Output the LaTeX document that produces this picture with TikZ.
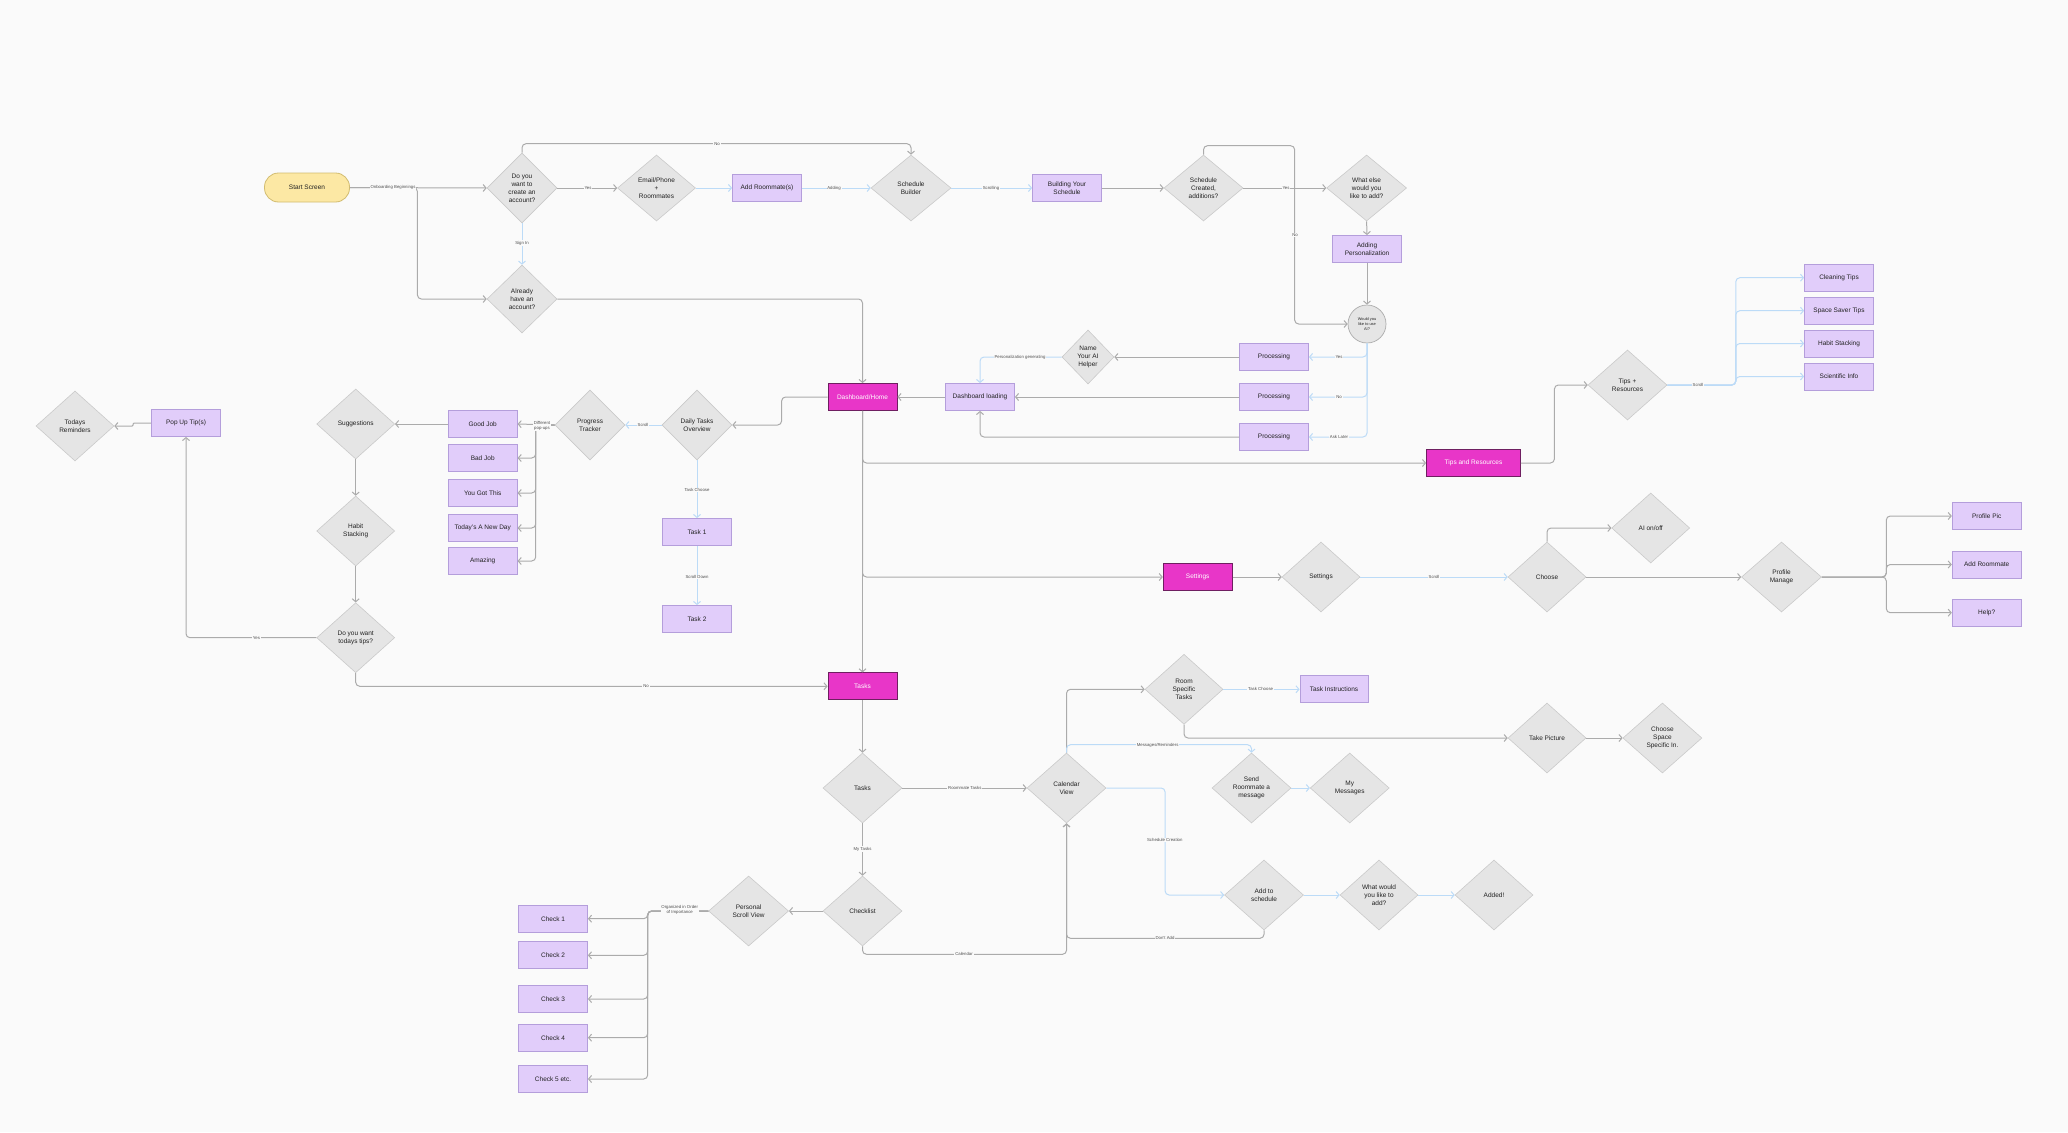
\documentclass[tikz,border=0pt]{standalone}
\usepackage{fontspec}
\setmainfont{Liberation Sans}
\usetikzlibrary{shapes.geometric,arrows.meta,calc}
\definecolor{bgc}{HTML}{FAFAFA}
\definecolor{dfill}{HTML}{E5E5E5}
\definecolor{dline}{HTML}{CACACA}
\definecolor{pfill}{HTML}{E1CDFA}
\definecolor{pline}{HTML}{B49EDB}
\definecolor{mfill}{HTML}{E836C8}
\definecolor{mline}{HTML}{6E1F60}
\definecolor{sfill}{HTML}{FCE8A4}
\definecolor{sline}{HTML}{D2BC70}
\definecolor{gcon}{HTML}{ABABAB}
\definecolor{bcon}{HTML}{BCDBF7}
\definecolor{txt}{HTML}{222222}
\newcommand\nodefont{\fontsize{6.5}{8}\selectfont}
\newcommand\edgefont{\fontsize{4.3}{5}\selectfont}
\newcommand\aifont{\fontsize{3.9}{4.6}\selectfont}
\begin{document}
\begin{tikzpicture}[x=1pt,y=-1pt,
  dia/.style={diamond, draw=dline, fill=dfill, line width=0.6pt, minimum width=78pt, minimum height=70pt, inner sep=0pt, align=center, font=\nodefont, text=txt},
  box/.style={rectangle, draw=pline, fill=pfill, line width=0.8pt, minimum width=69pt, minimum height=27pt, inner sep=1pt, align=center, font=\nodefont, text=txt},
  mag/.style={rectangle, draw=mline, fill=mfill, line width=0.8pt, minimum width=69pt, minimum height=27pt, inner sep=1pt, align=center, font=\nodefont, text=white},
  startn/.style={rectangle, rounded corners=14pt, draw=sline, fill=sfill, line width=0.8pt, minimum width=85pt, minimum height=29pt, font=\nodefont, text=txt},
  aic/.style={circle, draw=gcon, fill=dfill, line width=0.7pt, minimum size=38pt, inner sep=0pt, align=center, font=\aifont, text=txt},
  lbl/.style={fill=bgc, inner sep=0.8pt, font=\edgefont, text=txt!80, align=center},
  gl/.style={draw=gcon, line width=1pt, rounded corners=4pt, -{Straight Barb[length=3pt,width=7pt]}},
  bl/.style={draw=bcon, line width=1pt, rounded corners=4pt, -{Straight Barb[length=3pt,width=7pt]}}
]
\useasboundingbox (0,0) rectangle (2068,1132);
\fill[bgc] (0,0) rectangle (2068,1132);

% ---------- nodes: top row ----------
\node[startn] (start) at (307,187.5) {Start Screen};
\node[dia, minimum width=70pt] (q1) at (522,188) {Do you\\want to\\create an\\account?};
\node[dia, minimum height=66pt] (email) at (656.5,188) {Email/Phone\\+\\Roommates};
\node[box] (addrm) at (767,188) {Add Roommate(s)};
\node[dia, minimum width=80pt, minimum height=66pt] (sbuild) at (911,188) {Schedule\\Builder};
\node[box] (building) at (1067,188) {Building Your\\Schedule};
\node[dia, minimum width=79pt, minimum height=66pt] (screated) at (1203.5,188) {Schedule\\Created,\\additions?};
\node[dia, minimum width=80pt, minimum height=66pt] (whatelse) at (1366.6,188) {What else\\would you\\like to add?};
\node[box] (addpers) at (1367,249) {Adding\\Personalization};
\node[aic] (ai) at (1367,324) {Would you\\like to use\\AI?};
\node[dia, minimum width=70pt, minimum height=68pt] (already) at (522,299) {Already\\have an\\account?};

% ---------- processing / dashboard ----------
\node[box] (proc1) at (1274,357) {Processing};
\node[box] (proc2) at (1274,397) {Processing};
\node[box] (proc3) at (1274,437) {Processing};
\node[dia, minimum width=52pt, minimum height=54pt] (nameai) at (1088,357) {Name\\Your AI\\Helper};
\node[box] (dload) at (980,397) {Dashboard loading};
\node[mag] (dhome) at (862.5,397) {Dashboard/Home};
\node[mag, minimum width=94pt] (tipsres) at (1473.5,463) {Tips and Resources};
\node[dia, minimum width=79pt] (tipsdia) at (1627.5,385) {Tips +\\Resources};
\node[box] (clean) at (1839,277.7) {Cleaning Tips};
\node[box] (space) at (1839,310.7) {Space Saver Tips};
\node[box] (habitb) at (1839,343.5) {Habit Stacking};
\node[box] (sci) at (1839,376.5) {Scientific Info};

% ---------- left cluster ----------
\node[dia, minimum width=70pt] (daily) at (697,425) {Daily Tasks\\Overview};
\node[box] (task1) at (697,532) {Task 1};
\node[box] (task2) at (697,619) {Task 2};
\node[dia, minimum width=70pt] (progress) at (590,425) {Progress\\Tracker};
\node[box] (good) at (482.7,424) {Good Job};
\node[box] (bad) at (482.7,458) {Bad Job};
\node[box] (gotthis) at (482.7,493) {You Got This};
\node[box] (newday) at (482.7,528) {Today's A New Day};
\node[box] (amazing) at (482.7,561) {Amazing};
\node[dia] (sugg) at (355.7,424) {Suggestions};
\node[dia] (habit) at (355.7,531) {Habit\\Stacking};
\node[dia] (tipsq) at (355.7,637.7) {Do you want\\todays tips?};
\node[box] (popup) at (186,423) {Pop Up Tip(s)};
\node[dia] (remind) at (75,426) {Todays\\Reminders};

% ---------- settings row ----------
\node[mag] (settings) at (1197.7,577) {Settings};
\node[dia] (setdia) at (1321,577) {Settings};
\node[dia] (choose) at (1547,577) {Choose};
\node[dia] (aionoff) at (1650.7,528) {AI on/off};
\node[dia, minimum width=80pt] (profile) at (1781.5,577) {Profile\\Manage};
\node[box] (ppic) at (1986.7,516) {Profile Pic};
\node[box] (addr) at (1986.7,564.5) {Add Roommate};
\node[box] (help) at (1986.7,612.7) {Help?};

% ---------- tasks ----------
\node[mag] (tasks) at (862.5,686.3) {Tasks};
\node[dia, minimum width=79pt] (tasksdia) at (862.5,788) {Tasks};
\node[dia, minimum width=79pt] (cal) at (1066.5,788) {Calendar\\View};
\node[dia] (room) at (1184,689.3) {Room\\Specific\\Tasks};
\node[box, minimum width=68pt] (taskinst) at (1334,689.3) {Task Instructions};
\node[dia] (takepic) at (1547,738) {Take Picture};
\node[dia, minimum width=79pt] (choosesp) at (1662.4,738) {Choose\\Space\\Specific In.};
\node[dia, minimum width=79pt] (send) at (1251.5,788) {Send\\Roommate a\\message};
\node[dia, minimum width=79pt] (mymsg) at (1349.7,788) {My\\Messages};
\node[dia, minimum width=79pt] (addsch) at (1264,895) {Add to\\schedule};
\node[dia] (whatwould) at (1379,895) {What would\\you like to\\add?};
\node[dia] (added) at (1494,895) {Added!};
\node[dia, minimum width=79pt] (checklist) at (862.5,911) {Checklist};
\node[dia, minimum width=80pt] (personal) at (748.6,911) {Personal\\Scroll View};
\node[box] (check1) at (553,918.7) {Check 1};
\node[box] (check2) at (553,955.3) {Check 2};
\node[box] (check3) at (553,999) {Check 3};
\node[box] (check4) at (553,1037.7) {Check 4};
\node[box] (check5) at (553,1079) {Check 5 etc.};

% ---------- connectors ----------
\draw[gl] (start.east) -- (q1.west);
\draw[gl] (start.east) -- ++(67.5,0) |- (already.west);
\draw[gl] (q1.east) -- (email.west);
\draw[bl] (email.east) -- (addrm.west);
\draw[bl] (addrm.east) -- (sbuild.west);
\draw[gl] (q1.north) -- ++(0,-9) -| (sbuild.north);
\draw[bl] (q1.south) -- (already.north);
\draw[gl] (already.east) -| (dhome.north);
\draw[bl] (sbuild.east) -- (building.west);
\draw[gl] (building.east) -- (screated.west);
\draw[gl] (screated.east) -- (whatelse.west);
\draw[gl] (screated.north) -- ++(0,-9) -| ($(ai.west)+(-53,0)$) -- (ai.west);
\draw[gl] (whatelse.south) -- (addpers.north);
\draw[gl] (addpers.south) -- (ai.north);
\draw[bl] (ai.south) |- (proc1.east);
\draw[bl] (ai.south) |- (proc2.east);
\draw[bl] (ai.south) |- (proc3.east);
\draw[gl] (proc1.west) -- (nameai.east);
\draw[bl] (nameai.west) -| (dload.north);
\draw[gl] (proc2.west) -- (dload.east);
\draw[gl] (proc3.west) -| (dload.south);
\draw[gl] (dload.west) -- (dhome.east);
\draw[gl] (dhome.west) -- ++(-46,0) |- (daily.east);
\draw[gl] (dhome.south) -- (tasks.north);
\draw[gl] (dhome.south) |- (tipsres.west);
\draw[gl] (dhome.south) |- (settings.west);
\draw[gl] (tipsres.east) -- ++(33.5,0) |- (tipsdia.west);
\draw[bl] (tipsdia.east) -- ++(68.5,0) |- (clean.west);
\draw[bl] (tipsdia.east) -- ++(68.5,0) |- (space.west);
\draw[bl] (tipsdia.east) -- ++(68.5,0) |- (habitb.west);
\draw[bl] (tipsdia.east) -- ++(68.5,0) |- (sci.west);
\draw[bl] (daily.west) -- (progress.east);
\draw[bl] (daily.south) -- (task1.north);
\draw[bl] (task1.south) -- (task2.north);
\draw[gl] (progress.west) -- (good.east);
\draw[gl] (progress.west) -- ++(-19,0) |- (bad.east);
\draw[gl] (progress.west) -- ++(-19,0) |- (gotthis.east);
\draw[gl] (progress.west) -- ++(-19,0) |- (newday.east);
\draw[gl] (progress.west) -- ++(-19,0) |- (amazing.east);
\draw[gl] (good.west) -- (sugg.east);
\draw[gl] (sugg.south) -- (habit.north);
\draw[gl] (habit.south) -- (tipsq.north);
\draw[gl] (tipsq.west) -| (popup.south);
\draw[gl, rounded corners=1pt] (popup.west) -- ++(-18,0) |- (remind.east);
\draw[gl] (tipsq.south) |- (tasks.west);
\draw[gl] (settings.east) -- (setdia.west);
\draw[bl] (setdia.east) -- (choose.west);
\draw[gl] (choose.north) |- (aionoff.west);
\draw[gl] (choose.east) -- (profile.west);
\draw[gl] (profile.east) -- ++(64.5,0) |- (ppic.west);
\draw[gl] (profile.east) -- ++(64.5,0) |- (addr.west);
\draw[gl] (profile.east) -- ++(64.5,0) |- (help.west);
\draw[gl] (tasks.south) -- (tasksdia.north);
\draw[gl] (tasksdia.east) -- (cal.west);
\draw[gl] (cal.north) |- (room.west);
\draw[bl] (room.east) -- (taskinst.west);
\draw[gl] (room.south) |- (takepic.west);
\draw[gl] (takepic.east) -- (choosesp.west);
\draw[bl] (cal.north) -- ++(0,-8) -| (send.north);
\draw[bl] (send.east) -- (mymsg.west);
\draw[bl] (cal.east) -- ++(58.8,0) |- (addsch.west);
\draw[bl] (addsch.east) -- (whatwould.west);
\draw[bl] (whatwould.east) -- (added.west);
\draw[gl] (addsch.south) -- ++(0,8) -| (cal.south);
\draw[gl] (tasksdia.south) -- (checklist.north);
\draw[gl] (checklist.south) -- ++(0,8) -| (cal.south);
\draw[gl] (checklist.west) -- (personal.east);
\draw[gl] (personal.west) -- ++(-60.6,0) |- (check1.east);
\draw[gl] (personal.west) -- ++(-60.6,0) |- (check2.east);
\draw[gl] (personal.west) -- ++(-60.6,0) |- (check3.east);
\draw[gl] (personal.west) -- ++(-60.6,0) |- (check4.east);
\draw[gl] (personal.west) -- ++(-60.6,0) |- (check5.east);

% ---------- connector labels ----------
\node[lbl] (l1) at (393,187.5) {Onboarding Beginnings};
\node[lbl] (l2) at (588,188) {Yes};
\node[lbl] (l3) at (834,188) {Adding};
\node[lbl] (l4) at (717,144) {No};
\node[lbl] (l5) at (522,243) {Sign In};
\node[lbl] (l6) at (991,188) {Scrolling};
\node[lbl] (l7) at (1286,188) {Yes};
\node[lbl] (l8) at (1295,235) {No};
\node[lbl] (l9) at (1339,357) {Yes};
\node[lbl] (l10) at (1339,397) {No};
\node[lbl] (l11) at (1339,437) {Ask Later};
\node[lbl] (l12) at (1020,357) {Personalization generating};
\node[lbl] (l13) at (1698,385) {Scroll};
\node[lbl] (l14) at (643,425) {Scroll};
\node[lbl] (l15) at (697,490) {Task Choose};
\node[lbl] (l16) at (697,577) {Scroll Down};
\node[lbl] (l17) at (542,426) {Different\\pop-ups};
\node[lbl] (l18) at (256.5,637.7) {Yes};
\node[lbl] (l19) at (646,686.3) {No};
\node[lbl] (l20) at (1434,577) {Scroll};
\node[lbl] (l21) at (964.8,788) {Roommate Tasks};
\node[lbl] (l22) at (1260.6,689.3) {Task Choose};
\node[lbl] (l23) at (1157.6,745) {Messages/Reminders};
\node[lbl] (l24) at (1164.8,840) {Schedule Creation};
\node[lbl] (l25) at (1165,938) {Don't Add};
\node[lbl] (l26) at (964,954) {Calendar};
\node[lbl] (l27) at (862.5,849) {My Tasks};
\node[lbl] (l28) at (679.7,910) {Organized in Order\\of Importance};
\end{tikzpicture}
\end{document}
